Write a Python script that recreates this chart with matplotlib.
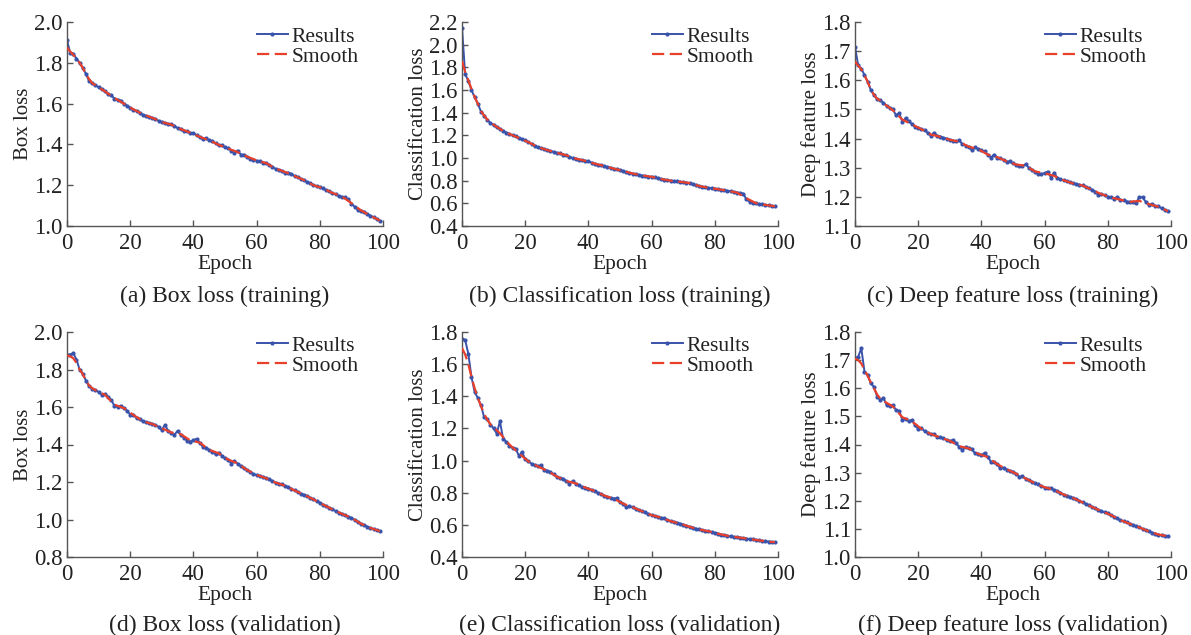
import matplotlib
matplotlib.use("Agg")
import matplotlib.pyplot as plt
from matplotlib.ticker import FormatStrFormatter

plt.rcParams['font.family'] = ['Liberation Serif', 'DejaVu Serif']

epochs = list(range(100))
smooth_epochs = [0, 1, 2, 3, 4, 5, 6, 7, 8, 9, 12, 15, 18, 21, 24, 27, 30, 33, 36, 39,
                 42, 45, 48, 51, 54, 57, 60, 63, 66, 69, 72, 75, 78, 81, 84, 87, 90, 93, 96, 99]

box_train = [1.91, 1.85, 1.845, 1.82, 1.80, 1.775, 1.745, 1.71, 1.70, 1.69,
             1.68, 1.67, 1.66, 1.645, 1.64, 1.625, 1.62, 1.615, 1.60, 1.59,
             1.58, 1.57, 1.565, 1.555, 1.545, 1.54, 1.535, 1.53, 1.525, 1.515,
             1.51, 1.505, 1.50, 1.50, 1.49, 1.48, 1.475, 1.465, 1.465, 1.455,
             1.455, 1.445, 1.435, 1.425, 1.43, 1.42, 1.415, 1.405, 1.395, 1.395,
             1.385, 1.38, 1.37, 1.36, 1.37, 1.35, 1.35, 1.34, 1.33, 1.325,
             1.32, 1.318, 1.31, 1.31, 1.30, 1.29, 1.28, 1.275, 1.27, 1.262,
             1.262, 1.255, 1.245, 1.24, 1.23, 1.225, 1.215, 1.21, 1.20, 1.195,
             1.19, 1.185, 1.175, 1.17, 1.16, 1.155, 1.148, 1.143, 1.14, 1.13,
             1.11, 1.095, 1.08, 1.075, 1.07, 1.06, 1.05, 1.043, 1.035, 1.025]
box_train_smooth = [1.875, 1.855, 1.84, 1.82, 1.80, 1.775, 1.745, 1.72, 1.70, 1.69,
                    1.66, 1.628, 1.60, 1.572, 1.548, 1.53, 1.51, 1.497, 1.475, 1.458,
                    1.437, 1.42, 1.398, 1.38, 1.362, 1.34, 1.322, 1.308, 1.282, 1.265,
                    1.245, 1.225, 1.20, 1.185, 1.162, 1.145, 1.112, 1.077, 1.05, 1.027]

cls_train = [2.15, 1.74, 1.68, 1.60, 1.535, 1.48, 1.41, 1.375, 1.335, 1.31,
             1.29, 1.27, 1.255, 1.24, 1.225, 1.21, 1.20, 1.19, 1.175, 1.165,
             1.155, 1.14, 1.125, 1.105, 1.095, 1.085, 1.08, 1.07, 1.06, 1.055,
             1.045, 1.04, 1.03, 1.025, 1.01, 1.00, 0.995, 0.985, 0.98, 0.975,
             0.97, 0.96, 0.95, 0.94, 0.935, 0.93, 0.92, 0.915, 0.905, 0.90,
             0.895, 0.885, 0.875, 0.87, 0.862, 0.858, 0.85, 0.845, 0.84, 0.835,
             0.835, 0.83, 0.82, 0.815, 0.81, 0.805, 0.80, 0.798, 0.795, 0.79,
             0.785, 0.782, 0.78, 0.77, 0.76, 0.752, 0.745, 0.74, 0.738, 0.733,
             0.73, 0.725, 0.72, 0.715, 0.71, 0.707, 0.70, 0.695, 0.692, 0.686,
             0.635, 0.615, 0.605, 0.60, 0.595, 0.59, 0.585, 0.582, 0.578, 0.573]
cls_train_smooth = [1.855, 1.76, 1.685, 1.61, 1.54, 1.48, 1.415, 1.375, 1.34, 1.312,
                    1.257, 1.212, 1.177, 1.14, 1.097, 1.07, 1.046, 1.024, 0.995, 0.975,
                    0.95, 0.93, 0.906, 0.886, 0.863, 0.846, 0.834, 0.815, 0.80, 0.79,
                    0.779, 0.753, 0.737, 0.725, 0.711, 0.695, 0.645, 0.602, 0.586, 0.574]

dfl_train = [1.715, 1.652, 1.64, 1.618, 1.595, 1.567, 1.55, 1.535, 1.532, 1.522,
             1.513, 1.505, 1.50, 1.48, 1.487, 1.457, 1.47, 1.46, 1.45, 1.44,
             1.437, 1.432, 1.43, 1.42, 1.41, 1.42, 1.41, 1.407, 1.403, 1.40,
             1.396, 1.393, 1.39, 1.394, 1.38, 1.376, 1.372, 1.36, 1.37, 1.365,
             1.36, 1.356, 1.345, 1.335, 1.345, 1.335, 1.333, 1.328, 1.32, 1.322,
             1.315, 1.31, 1.307, 1.305, 1.312, 1.30, 1.293, 1.286, 1.28, 1.279,
             1.281, 1.287, 1.266, 1.283, 1.265, 1.26, 1.257, 1.254, 1.25, 1.246,
             1.244, 1.242, 1.239, 1.235, 1.23, 1.224, 1.218, 1.207, 1.21, 1.205,
             1.201, 1.198, 1.194, 1.20, 1.19, 1.188, 1.184, 1.183, 1.182, 1.18,
             1.20, 1.198, 1.183, 1.173, 1.176, 1.168, 1.167, 1.161, 1.156, 1.15]
dfl_train_smooth = [1.665, 1.65, 1.638, 1.617, 1.595, 1.568, 1.55, 1.537, 1.53, 1.521,
                    1.497, 1.465, 1.449, 1.432, 1.414, 1.406, 1.396, 1.389, 1.372, 1.364,
                    1.345, 1.336, 1.322, 1.311, 1.307, 1.287, 1.281, 1.272, 1.257, 1.246,
                    1.239, 1.224, 1.209, 1.198, 1.19, 1.183, 1.186, 1.175, 1.166, 1.151]

box_val = [1.88, 1.88, 1.888, 1.852, 1.80, 1.777, 1.74, 1.71, 1.697, 1.69,
           1.68, 1.666, 1.67, 1.655, 1.637, 1.607, 1.60, 1.607, 1.595, 1.58,
           1.56, 1.56, 1.54, 1.535, 1.523, 1.518, 1.515, 1.51, 1.503, 1.495,
           1.477, 1.505, 1.473, 1.46, 1.452, 1.473, 1.452, 1.437, 1.42, 1.416,
           1.423, 1.43, 1.41, 1.387, 1.384, 1.37, 1.362, 1.348, 1.357, 1.34,
           1.327, 1.32, 1.298, 1.312, 1.298, 1.285, 1.273, 1.264, 1.254, 1.243,
           1.237, 1.233, 1.227, 1.22, 1.214, 1.205, 1.196, 1.192, 1.187, 1.18,
           1.173, 1.164, 1.155, 1.147, 1.138, 1.132, 1.125, 1.115, 1.107, 1.098,
           1.09, 1.08, 1.071, 1.063, 1.054, 1.045, 1.036, 1.03, 1.023, 1.016,
           1.009, 0.998, 0.987, 0.978, 0.97, 0.962, 0.955, 0.949, 0.943, 0.937]
box_val_smooth = [1.875, 1.87, 1.86, 1.835, 1.80, 1.775, 1.742, 1.715, 1.70, 1.69,
                  1.665, 1.613, 1.594, 1.558, 1.524, 1.509, 1.487, 1.464, 1.455, 1.422,
                  1.41, 1.372, 1.353, 1.32, 1.299, 1.264, 1.238, 1.22, 1.197, 1.18,
                  1.155, 1.132, 1.107, 1.08, 1.054, 1.03, 1.009, 0.978, 0.955, 0.938]

cls_val = [1.758, 1.75, 1.665, 1.52, 1.427, 1.39, 1.344, 1.27, 1.257, 1.224,
           1.20, 1.168, 1.245, 1.137, 1.116, 1.09, 1.079, 1.075, 1.029, 1.054,
           1.008, 0.995, 0.981, 0.972, 0.965, 0.97, 0.944, 0.937, 0.93, 0.915,
           0.898, 0.893, 0.888, 0.872, 0.857, 0.872, 0.857, 0.845, 0.836, 0.832,
           0.826, 0.818, 0.81, 0.80, 0.789, 0.782, 0.774, 0.768, 0.764, 0.766,
           0.743, 0.73, 0.712, 0.716, 0.71, 0.70, 0.691, 0.684, 0.677, 0.668,
           0.66, 0.655, 0.65, 0.645, 0.64, 0.632, 0.623, 0.619, 0.614, 0.608,
           0.602, 0.595, 0.588, 0.583, 0.577, 0.572, 0.567, 0.563, 0.56, 0.555,
           0.55, 0.545, 0.54, 0.536, 0.532, 0.528, 0.525, 0.523, 0.521, 0.518,
           0.515, 0.512, 0.509, 0.506, 0.503, 0.50, 0.498, 0.496, 0.494, 0.492]
cls_val_smooth = [1.70, 1.66, 1.60, 1.52, 1.45, 1.39, 1.34, 1.29, 1.255, 1.225,
                  1.17, 1.10, 1.045, 0.995, 0.963, 0.937, 0.90, 0.873, 0.858, 0.832,
                  0.81, 0.782, 0.763, 0.732, 0.71, 0.684, 0.66, 0.645, 0.623, 0.608,
                  0.588, 0.572, 0.56, 0.545, 0.532, 0.523, 0.515, 0.506, 0.498, 0.492]

dfl_val = [1.706, 1.712, 1.742, 1.659, 1.647, 1.617, 1.605, 1.57, 1.558, 1.566,
           1.54, 1.538, 1.54, 1.522, 1.519, 1.487, 1.49, 1.483, 1.487, 1.469,
           1.455, 1.458, 1.448, 1.442, 1.436, 1.438, 1.428, 1.425, 1.422, 1.416,
           1.412, 1.416, 1.404, 1.392, 1.38, 1.392, 1.388, 1.383, 1.368, 1.365,
           1.362, 1.37, 1.356, 1.339, 1.337, 1.329, 1.315, 1.318, 1.311, 1.307,
           1.303, 1.295, 1.285, 1.287, 1.279, 1.273, 1.267, 1.262, 1.258, 1.252,
           1.247, 1.246, 1.244, 1.239, 1.235, 1.229, 1.222, 1.218, 1.214, 1.21,
           1.206, 1.20, 1.194, 1.189, 1.184, 1.178, 1.173, 1.168, 1.163, 1.159,
           1.155, 1.149, 1.143, 1.137, 1.131, 1.127, 1.123, 1.118, 1.113, 1.109,
           1.105, 1.10, 1.095, 1.091, 1.087, 1.083, 1.08, 1.077, 1.075, 1.074]
dfl_val_smooth = [1.705, 1.70, 1.688, 1.665, 1.645, 1.62, 1.60, 1.578, 1.563, 1.555,
                  1.535, 1.497, 1.482, 1.456, 1.437, 1.425, 1.413, 1.394, 1.386, 1.367,
                  1.355, 1.33, 1.312, 1.296, 1.279, 1.262, 1.248, 1.239, 1.222, 1.21,
                  1.194, 1.178, 1.163, 1.149, 1.131, 1.118, 1.105, 1.091, 1.08, 1.074]

ylabels = ["Box loss", "Classification loss", "Deep feature loss",
           "Box loss", "Classification loss", "Deep feature loss"]
captions = ["(a) Box loss (training)", "(b) Classification loss (training)",
            "(c) Deep feature loss (training)", "(d) Box loss (validation)",
            "(e) Classification loss (validation)", "(f) Deep feature loss (validation)"]
ylims = [(1.0, 2.0), (0.4, 2.2), (1.1, 1.8), (0.8, 2.0), (0.4, 1.8), (1.0, 1.8)]
ysteps = [0.2, 0.2, 0.1, 0.2, 0.2, 0.1]
results = [box_train, cls_train, dfl_train, box_val, cls_val, dfl_val]
smooths = [box_train_smooth, cls_train_smooth, dfl_train_smooth,
           box_val_smooth, cls_val_smooth, dfl_val_smooth]

W, H = 1191, 635
fig = plt.figure(figsize=(W / 100, H / 100), dpi=100)

lefts = [67, 462, 855]
width = 316
rows = [(22, 226), (332, 557)]
cap_y = [296, 625]

blue = '#3953ab'
red = '#e8402a'
axc = '#555555'
txt = '#222222'

for i in range(6):
    r, c = divmod(i, 3)
    top, bot = rows[r]
    ax = fig.add_axes([lefts[c] / W, 1 - bot / H, width / W, (bot - top) / H])
    ax.plot(epochs, results[i], color=blue, lw=1.4, marker='o', ms=2.0,
            label='Results', zorder=2)
    ax.plot(smooth_epochs, smooths[i], color=red, lw=1.6, ls=(0, (5.5, 2.5)),
            label='Smooth', zorder=3)
    lo, hi = ylims[i]
    ax.set_xlim(0, 100)
    ax.set_ylim(lo, hi)
    n = int(round((hi - lo) / ysteps[i]))
    ax.set_yticks([lo + k * ysteps[i] for k in range(n + 1)])
    ax.set_xticks([0, 20, 40, 60, 80, 100])
    ax.yaxis.set_major_formatter(FormatStrFormatter('%.1f'))
    for s in ['top', 'right']:
        ax.spines[s].set_visible(False)
    for s in ['left', 'bottom']:
        ax.spines[s].set_color(axc)
        ax.spines[s].set_linewidth(1.0)
    ax.tick_params(direction='in', length=4, width=1.0, color=axc,
                   labelsize=16.5, labelcolor=txt)
    ax.tick_params(axis='x', pad=5)
    ax.tick_params(axis='y', pad=3)
    ax.set_xlabel('Epoch', fontsize=15.5, labelpad=1, color=txt)
    ax.set_ylabel(ylabels[i], fontsize=15, labelpad=1, color=txt)
    leg = ax.legend(loc='upper right', bbox_to_anchor=(0.97, 1.05), frameon=False,
                    fontsize=15.5, handlelength=1.45, handletextpad=0.15,
                    labelspacing=0.0, borderpad=0.2)
    for t in leg.get_texts():
        t.set_color(txt)
    fig.text((lefts[c] + width / 2) / W, 1 - cap_y[r] / H, captions[i],
             ha='center', va='center', fontsize=17, color=txt)

fig.savefig('out.png', dpi=100)
